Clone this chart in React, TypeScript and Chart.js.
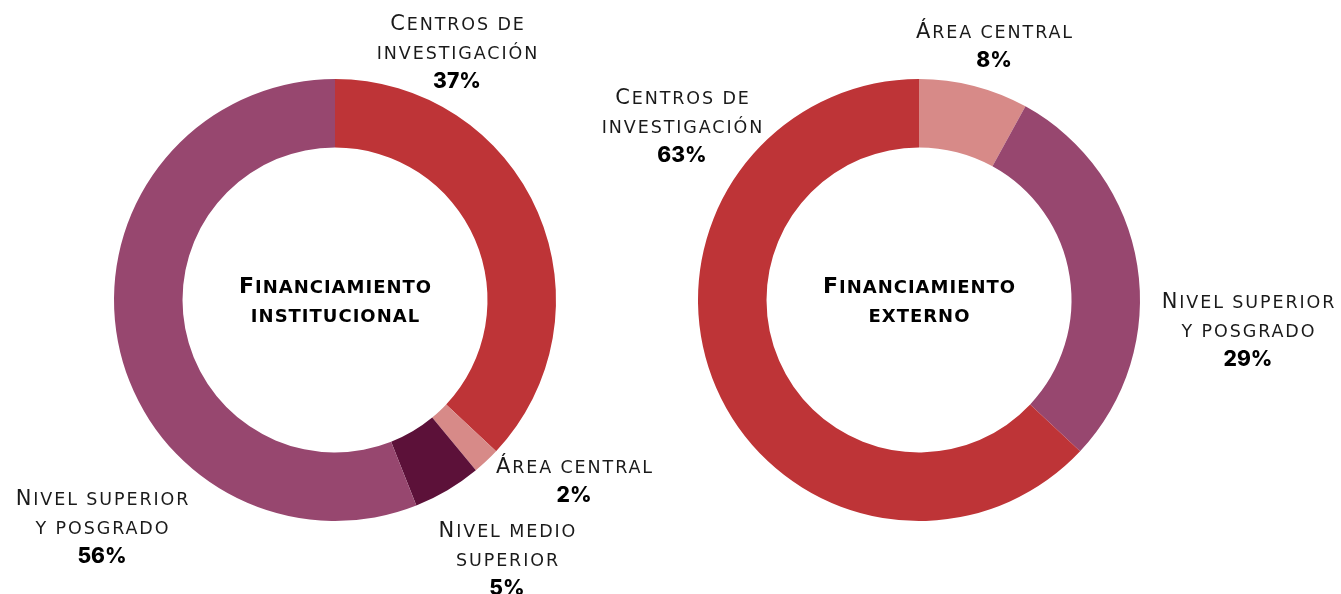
import React, { useEffect, useRef } from "react";
import { Chart, registerables } from "chart.js";
Chart.register(...registerables);

// ---- data ----
const institucionalLabels = ["Centros de\ninvestigación", "Área central", "Nivel medio\nsuperior", "Nivel superior\ny posgrado"];
const institucionalValues = [37, 2, 5, 56];
const institucionalColors = ["#BE3437", "#D78A88", "#5C1139", "#97476F"];

const externoLabels = ["Área central", "Nivel superior\ny posgrado", "Centros de\ninvestigación"];
const externoValues = [8, 29, 63];
const externoColors = ["#D78A88", "#97476F", "#BE3437"];

const titles = ["Financiamiento\ninstitucional", "Financiamiento\nexterno"];

// ---- layout (label anchors relative to doughnut centre: x-centre, first baseline) ----
const institucionalLabelOffsets = [[122, -270], [239, 173], [172, 237], [-233, 205]];
const externoLabelOffsets = [[75, -262], [329, 8], [-237, -196]];

const W = 1341;
const H = 594;
const LABEL_FONT = "'DejaVu Sans', sans-serif";
const TITLE_FONT = "'DejaVu Sans', sans-serif";
const PCT_FONT = "Inter, 'Open Sans', sans-serif";
const TEXT = "#1a1a1a";
const LINE = 29;

function isUpper(c: string) {
  return c !== c.toLowerCase();
}

function drawSmallCaps(ctx: CanvasRenderingContext2D, text: string, cx: number, y: number, big: number, small: number, weight: number, spacing: number, family: string) {
  const runs: { big: boolean; t: string; w: number }[] = [];
  for (const ch of text) {
    const b = isUpper(ch);
    const s = b ? ch : ch.toUpperCase();
    if (runs.length && runs[runs.length - 1].big === b) runs[runs.length - 1].t += s;
    else runs.push({ big: b, t: s, w: 0 });
  }
  (ctx as any).letterSpacing = spacing + "px";
  let total = 0;
  for (const r of runs) {
    ctx.font = `${weight} ${r.big ? big : small}px ${family}`;
    r.w = ctx.measureText(r.t).width;
    total += r.w;
  }
  total -= spacing;
  let x = cx - total / 2;
  ctx.textAlign = "left";
  ctx.textBaseline = "alphabetic";
  for (const r of runs) {
    ctx.font = `${weight} ${r.big ? big : small}px ${family}`;
    ctx.fillText(r.t, x, y);
    x += r.w;
  }
  (ctx as any).letterSpacing = "0px";
}

function makeLabelPlugin(title: string, labels: string[], values: number[], offsets: number[][]) {
  return {
    id: "labelsPlugin",
    afterDraw(chart: any) {
      const ctx: CanvasRenderingContext2D = chart.ctx;
      const meta = chart.getDatasetMeta(0);
      const arc = meta.data[0];
      const cx = arc.x;
      const cy = arc.y;
      ctx.save();
      ctx.fillStyle = "#000";
      const tl = title.split("\n");
      tl.forEach((line, i) => {
        drawSmallCaps(ctx, line, cx, cy - 7 + i * LINE, 22, 18, 700, 1.0, TITLE_FONT);
      });
      labels.forEach((lab, k) => {
        const [dx, dy] = offsets[k];
        const lines = lab.split("\n");
        let y = cy + dy;
        ctx.fillStyle = TEXT;
        lines.forEach((line) => {
          drawSmallCaps(ctx, line, cx + dx, y, 21, 17.5, 400, 1.9, LABEL_FONT);
          y += LINE;
        });
        ctx.font = `800 21px ${PCT_FONT}`;
        ctx.textAlign = "center";
        ctx.textBaseline = "alphabetic";
        ctx.fillStyle = "#000";
        ctx.fillText(values[k] + "%", cx + dx, y - 0.5);
      });
      ctx.restore();
    },
  };
}

function Doughnut(props: { labels: string[]; values: number[]; colors: string[]; title: string; offsets: number[][]; padding: { left: number; right: number; top: number; bottom: number } }) {
  const ref = useRef<HTMLCanvasElement>(null);
  useEffect(() => {
    if (!ref.current) return;
    const chart = new Chart(ref.current, {
      type: "doughnut",
      data: {
        labels: props.labels,
        datasets: [
          {
            data: props.values,
            backgroundColor: props.colors,
            borderWidth: 0,
          },
        ],
      },
      options: {
        animation: false,
        responsive: false,
        maintainAspectRatio: false,
        cutout: "69%",
        rotation: 0,
        layout: { padding: props.padding },
        plugins: {
          legend: { display: false },
          tooltip: { enabled: false },
        },
        events: [],
      },
      plugins: [makeLabelPlugin(props.title, props.labels, props.values, props.offsets)],
    });
    return () => chart.destroy();
  }, []);
  return <canvas ref={ref} width={W} height={H} style={{ position: "absolute", left: 0, top: 0, width: W, height: H }} />;
}

export default function App() {
  return (
    <div style={{ position: "fixed", left: 0, top: 0, width: W, height: H, background: "#fff" }}>
      <Doughnut
        labels={institucionalLabels}
        values={institucionalValues}
        colors={institucionalColors}
        title={titles[0]}
        offsets={institucionalLabelOffsets}
        padding={{ left: 114, right: W - 556, top: 79, bottom: H - 521 }}
      />
      <Doughnut
        labels={externoLabels}
        values={externoValues}
        colors={externoColors}
        title={titles[1]}
        offsets={externoLabelOffsets}
        padding={{ left: 698, right: W - 1140, top: 79, bottom: H - 521 }}
      />
    </div>
  );
}
